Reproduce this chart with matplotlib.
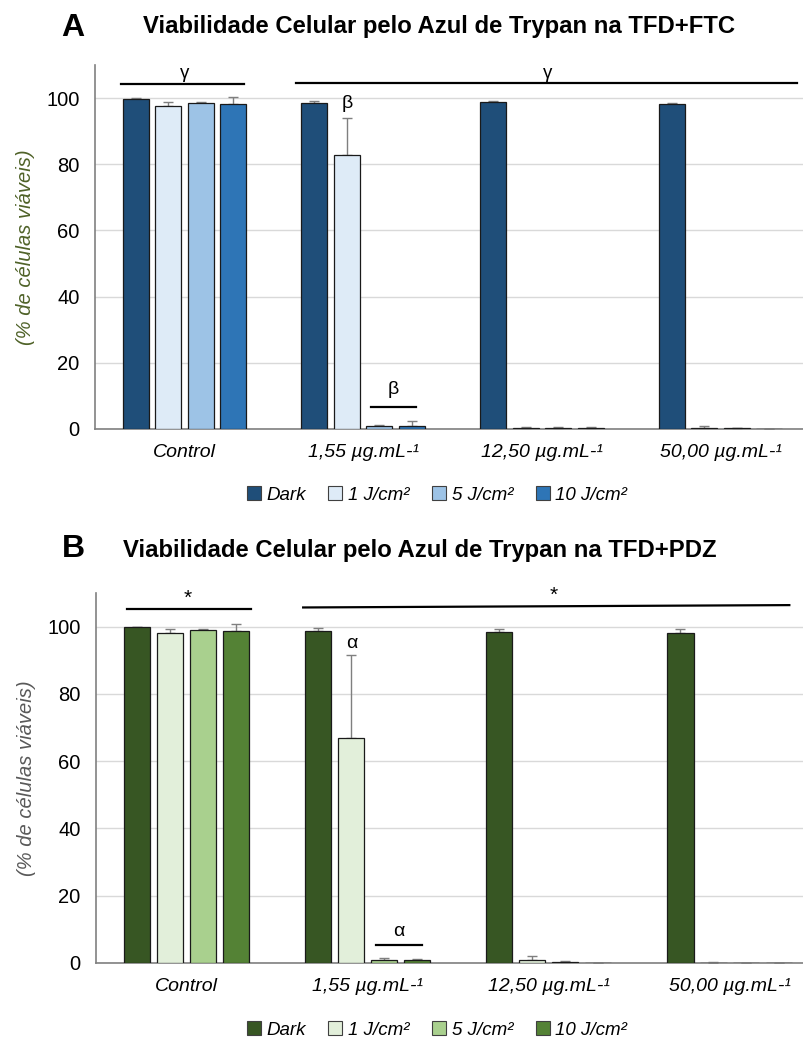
import matplotlib
matplotlib.use("Agg")

import numpy as np
import matplotlib.pyplot as plt
from matplotlib.patches import Patch

plt.rcParams['font.family'] = ['Liberation Sans', 'DejaVu Sans']

# dados
grupos = ["Control", "1,55 µg.mL-¹", "12,50 µg.mL-¹", "50,00 µg.mL-¹"]
series = ["Dark", "1 J/cm²", "5 J/cm²", "10 J/cm²"]

# TFD+FTC (A)
ftc_media = [[99.7, 98.4, 98.9, 98.2],   # Dark
             [97.7, 82.8, 0.4, 0.4],     # 1 J
             [98.6, 0.8, 0.3, 0.2],      # 5 J
             [98.3, 0.8, 0.3, 0.0]]      # 10 J
ftc_erro = [[0.2, 0.8, 0.3, 0.4],
            [1.1, 11.1, 0.2, 0.5],
            [0.3, 0.3, 0.2, 0.1],
            [1.9, 1.6, 0.2, 0.0]]

# TFD+PDZ (B)
pdz_media = [[99.9, 98.8, 98.4, 98.0],
             [98.1, 66.9, 1.0, 0.1],
             [99.1, 0.8, 0.4, 0.1],
             [98.7, 0.9, 0.1, 0.1]]
pdz_erro = [[0.1, 0.7, 0.9, 1.2],
            [1.2, 24.6, 1.2, 0.1],
            [0.2, 0.8, 0.2, 0.0],
            [2.1, 0.3, 0.0, 0.0]]

cores_ftc = ["#1F4E79", "#DEEBF7", "#9DC3E6", "#2E75B6"]
cores_pdz = ["#375623", "#E2EFDA", "#A9D08E", "#548235"]

W, H = 804, 1043
fig = plt.figure(figsize=(W / 100, H / 100), dpi=100)


def painel(rect, xmax, media, erro, cores, ylab_cor):
    ax = fig.add_axes(rect)
    x = np.arange(len(grupos))
    passo = 0.182
    larg = 0.146
    for i in range(len(series)):
        pos = x + (i - 1.5) * passo
        ax.bar(pos, media[i], width=larg, color=cores[i], edgecolor="#1a1a1a",
               linewidth=0.9, zorder=3)
        ax.errorbar(pos, media[i], yerr=[np.zeros(len(grupos)), erro[i]],
                    fmt="none", ecolor="#7F7F7F", elinewidth=1.0, capsize=3.5,
                    capthick=1.0, zorder=2)
    ax.set_xlim(-0.5, xmax)
    ax.set_ylim(0, 110)
    ax.set_yticks([0, 20, 40, 60, 80, 100])
    ax.set_xticks(x)
    ax.set_xticklabels(grupos, fontstyle="italic", fontsize=14)
    ax.tick_params(axis="y", length=0, labelsize=14.5, pad=11)
    ax.tick_params(axis="x", length=0, pad=11)
    ax.grid(axis="y", color="#D9D9D9", linewidth=1.0, zorder=0)
    for s in ["top", "right"]:
        ax.spines[s].set_visible(False)
    ax.spines["left"].set_color("#808080")
    ax.spines["bottom"].set_color("#808080")
    ax.spines["left"].set_linewidth(1.2)
    ax.spines["bottom"].set_linewidth(1.2)
    ax.set_ylabel("(% de células viáveis)", fontstyle="italic", fontsize=14.5,
                  color=ylab_cor, labelpad=8)
    return ax


# ---- painel A ----
axA = painel([95 / W, 1 - 429 / H, (W - 95) / W, (429 - 65) / H], 3.467,
             ftc_media, ftc_erro, cores_ftc, "#4F6228")
axA.plot([-0.354, 0.334], [104.2, 104.2], color="black", lw=1.6, clip_on=False)
axA.text(0.0, 107.5, "γ", ha="center", va="center", fontsize=13.5)
axA.plot([0.625, 3.428], [104.5, 104.5], color="black", lw=1.6, clip_on=False)
axA.text(2.035, 107.5, "γ", ha="center", va="center", fontsize=13.5)
axA.text(0.91, 98.3, "β", ha="center", va="center", fontsize=14)
axA.plot([1.044, 1.296], [6.6, 6.6], color="black", lw=1.6)
axA.text(1.168, 11.8, "β", ha="center", va="center", fontsize=14)

# ---- painel B ----
axB = painel([96 / W, 1 - 963 / H, (W - 96) / W, (963 - 593) / H], 3.41,
             pdz_media, pdz_erro, cores_pdz, "#595959")
axB.plot([-0.329, 0.356], [105.2, 105.2], color="black", lw=1.6, clip_on=False)
axB.text(0.008, 108.4, "*", ha="center", va="center", fontsize=15)
axB.plot([0.644, 3.329], [105.7, 106.4], color="black", lw=1.6, clip_on=False)
axB.text(2.03, 109.4, "*", ha="center", va="center", fontsize=15)
axB.text(0.914, 94.9, "α", ha="center", va="center", fontsize=14)
axB.plot([1.047, 1.301], [5.3, 5.3], color="black", lw=1.6)
axB.text(1.174, 9.3, "α", ha="center", va="center", fontsize=14)

# titulos
fig.text(73 / W, 1 - 28 / H, "A", fontsize=23, fontweight="bold", ha="center", va="center")
fig.text(439 / W, 1 - 27 / H, "Viabilidade Celular pelo Azul de Trypan na TFD+FTC",
         fontsize=17.2, fontweight="bold", ha="center", va="center")
fig.text(73 / W, 1 - 549 / H, "B", fontsize=23, fontweight="bold", ha="center", va="center")
fig.text(420 / W, 1 - 551 / H, "Viabilidade Celular pelo Azul de Trypan na TFD+PDZ",
         fontsize=17.2, fontweight="bold", ha="center", va="center")

# legendas
for cores, ypx in [(cores_ftc, 495), (cores_pdz, 1030)]:
    handles = [Patch(facecolor=c, edgecolor="#404040", linewidth=0.8) for c in cores]
    fig.legend(handles, series, loc="center", bbox_to_anchor=(437 / W, 1 - ypx / H),
               ncol=4, frameon=False, handlelength=0.75, handleheight=0.75,
               handletextpad=0.3, columnspacing=1.2,
               prop={"style": "italic", "size": 13.5})

plt.savefig("out.png", dpi=100)
